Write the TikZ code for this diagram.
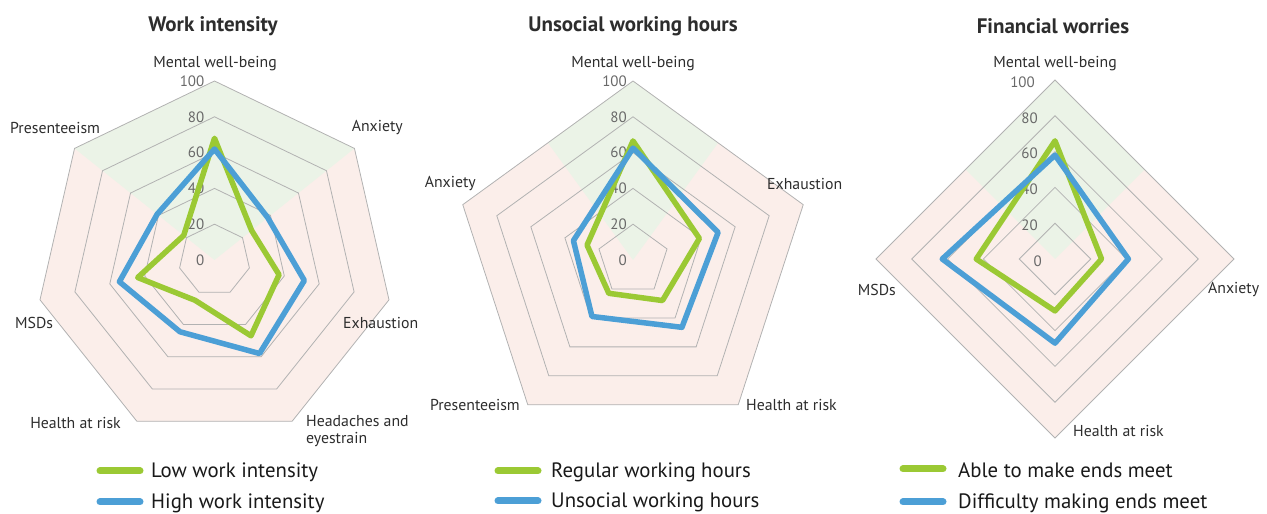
\documentclass[tikz,border=0pt]{standalone}
\usepackage{fontspec}
\setmainfont{PT Sans}

\definecolor{lowgreen}{RGB}{155,201,52}
\definecolor{highblue}{RGB}{76,159,214}
\definecolor{gridgray}{RGB}{178,178,178}
\definecolor{goodzone}{RGB}{235,243,231}
\definecolor{badzone}{RGB}{251,238,234}
\definecolor{ticktext}{RGB}{105,105,105}
\definecolor{labeltext}{RGB}{45,45,45}

\begin{document}
\begin{tikzpicture}[x=1pt,y=1pt,
  ring/.style={draw=gridgray,line width=0.8pt},
  lowline/.style={draw=lowgreen,line width=5.5pt,line join=round},
  highline/.style={draw=highblue,line width=5.5pt,line join=round},
  axislabel/.style={font=\fontsize{15.8}{16.5}\selectfont,text=labeltext,inner sep=0pt},
  ticklabel/.style={font=\fontsize{15}{16}\selectfont,text=ticktext,anchor=east,inner sep=0pt},
  charttitle/.style={font=\bfseries\fontsize{21}{24}\selectfont,text=labeltext,inner sep=0pt},
  legendtext/.style={font=\fontsize{20.8}{24}\selectfont,text=black!90,anchor=west,inner sep=0pt},
  legendkey/.style={line width=7pt,line cap=round}]
\useasboundingbox (0,0) rectangle (1267,514);

% ---------- Work intensity (7 axes) ----------
\begin{scope}[shift={(214.5,254)},x=1.79pt,y=1.79pt]
  % zones
  \fill[badzone] (90:100) -- (38.57:100) -- (-12.86:100) -- (-64.29:100) -- (-115.71:100) -- (-167.14:100) -- (141.43:100) -- cycle;
  \fill[goodzone] (0,0) -- (38.57:100) -- (90:100) -- (141.43:100) -- cycle;
  % rings
  \foreach \r in {20,40,60,80,100}
    \draw[ring] (90:\r) -- (38.57:\r) -- (-12.86:\r) -- (-64.29:\r) -- (-115.71:\r) -- (-167.14:\r) -- (141.43:\r) -- cycle;
  \foreach \r in {0,20,40,60,80,100}
    \node[ticklabel] (wi-t\r) at ([xshift=-10pt]90:\r) {\r};
  % series
  \draw[lowline] (90:68) -- (38.57:26.5) -- (-12.86:37) -- (-64.29:47) -- (-115.71:25) -- (-167.14:44) -- (141.43:22) -- cycle;
  \draw[highline] (90:62) -- (38.57:38) -- (-12.86:51.5) -- (-64.29:58) -- (-115.71:44.5) -- (-167.14:54.5) -- (141.43:41) -- cycle;
\end{scope}
\node[charttitle] (wi-title) at (213,488) {Work intensity};
\node[axislabel] (wi-mwb) at (215,450) {Mental well-being};
\node[axislabel,anchor=east] (wi-anx) at (403,386) {Anxiety};
\node[axislabel,anchor=west] (wi-exh) at (343,191) {Exhaustion};
\node[axislabel,anchor=west,align=left] (wi-head) at (306,83) {Headaches and\\eyestrain};
\node[axislabel,anchor=east] (wi-health) at (121,91) {Health at risk};
\node[axislabel,anchor=west] (wi-msd) at (15,191) {MSDs};
\node[axislabel,anchor=west] (wi-pres) at (10,386) {Presenteeism};
% legend
\node[legendtext] (wi-low) at (151,42) {Low work intensity};
\node[legendtext] (wi-high) at (151,11) {High work intensity};
\draw[legendkey,lowgreen] ([xshift=-11pt,yshift=1pt]wi-low.west) -- ++(-40,0);
\draw[legendkey,highblue] ([xshift=-11pt,yshift=1pt]wi-high.west) -- ++(-40,0);

% ---------- Unsocial working hours (5 axes) ----------
\begin{scope}[shift={(633,254)},x=1.79pt,y=1.79pt]
  \fill[badzone] (90:100) -- (18:100) -- (-54:100) -- (-126:100) -- (162:100) -- cycle;
  \fill[goodzone] (0,0) -- (54:80.9) -- (90:100) -- (126:80.9) -- cycle;
  \foreach \r in {20,40,60,80,100}
    \draw[ring] (90:\r) -- (18:\r) -- (-54:\r) -- (-126:\r) -- (162:\r) -- cycle;
  \foreach \r in {0,20,40,60,80,100}
    \node[ticklabel] (uh-t\r) at ([xshift=-6pt]90:\r) {\r};
  \draw[lowline] (90:66.5) -- (18:39) -- (-54:28) -- (-126:23) -- (162:27) -- cycle;
  \draw[highline] (90:62.5) -- (18:50) -- (-54:46.5) -- (-126:39) -- (162:35) -- cycle;
\end{scope}
\node[charttitle] (uh-title) at (633,488) {Unsocial working hours};
\node[axislabel] (uh-mwb) at (633,450) {Mental well-being};
\node[axislabel,anchor=west] (uh-exh) at (767,330) {Exhaustion};
\node[axislabel,anchor=west] (uh-health) at (746,109) {Health at risk};
\node[axislabel,anchor=east] (uh-pres) at (520,109) {Presenteeism};
\node[axislabel,anchor=east] (uh-anx) at (476,330) {Anxiety};
% legend
\node[legendtext] (uh-low) at (551,42) {Regular working hours};
\node[legendtext] (uh-high) at (551,12) {Unsocial working hours};
\draw[legendkey,lowgreen] ([xshift=-13pt,yshift=1pt]uh-low.west) -- ++(-40,0);
\draw[legendkey,highblue] ([xshift=-13pt,yshift=1pt]uh-high.west) -- ++(-40,0);

% ---------- Financial worries (4 axes) ----------
\begin{scope}[shift={(1055,255)},x=1.79pt,y=1.79pt]
  \fill[badzone] (90:100) -- (0:100) -- (-90:100) -- (180:100) -- cycle;
  \fill[goodzone] (0,0) -- (45:70.71) -- (90:100) -- (135:70.71) -- cycle;
  \foreach \r in {20,40,60,80,100}
    \draw[ring] (90:\r) -- (0:\r) -- (-90:\r) -- (180:\r) -- cycle;
  \node[ticklabel] (fw-t0) at ([xshift=-13pt,yshift=-2pt]90:0) {0};
  \foreach \r in {20,40,60,80}
    \node[ticklabel] (fw-t\r) at ([xshift=-17pt,yshift=-2pt]90:\r) {\r};
  \node[ticklabel] (fw-t100) at ([xshift=-20pt,yshift=-2pt]90:100) {100};
  \draw[lowline] (90:66) -- (0:26) -- (-90:29) -- (180:44) -- cycle;
  \draw[highline] (90:58) -- (0:41) -- (-90:47) -- (180:63) -- cycle;
\end{scope}
\node[charttitle] (fw-title) at (1053,488) {Financial worries};
\node[axislabel] (fw-mwb) at (1055,450) {Mental well-being};
\node[axislabel,anchor=west] (fw-anx) at (1208,224) {Anxiety};
\node[axislabel,anchor=west] (fw-health) at (1073,83) {Health at risk};
\node[axislabel,anchor=east] (fw-msd) at (896,224) {MSDs};
% legend
\node[legendtext] (fw-low) at (958,44) {Able to make ends meet};
\node[legendtext] (fw-high) at (958,11) {Difficulty making ends meet};
\draw[legendkey,lowgreen] ([xshift=-15pt,yshift=1pt]fw-low.west) -- ++(-40,0);
\draw[legendkey,highblue] ([xshift=-15pt,yshift=1pt]fw-high.west) -- ++(-40,0);
\end{tikzpicture}
\end{document}
